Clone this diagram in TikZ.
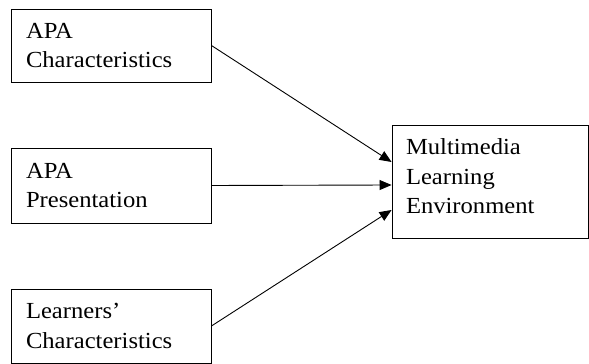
\documentclass[tikz,border=0pt]{standalone}
\usepackage{fontspec}
\setmainfont[FakeStretch=1.07]{Liberation Serif}
\usetikzlibrary{positioning}
\usetikzlibrary{arrows.meta}

\tikzset{
    factor/.style={draw, line width=0.9pt, minimum width=200pt, text width=170pt,
        align=left, inner xsep=15pt, font=\fontsize{23}{29.5}\selectfont},
    link/.style={-{Triangle[length=12pt,width=10pt]}, line width=0.9pt}
}

\begin{document}
\begin{tikzpicture}[x=1pt, y=1pt]
    \useasboundingbox (0, 0) rectangle (589, 364);

    % Input factors
    \node[factor, minimum height=73pt] (apachar) at (111, 318.5) {APA\\Characteristics};
    \node[factor, minimum height=75pt] (apapres) at (111, 178.5) {APA\\Presentation};
    \node[factor, minimum height=74pt] (learnchar) at (111, 38) {Learners'\\Characteristics};

    % Outcome
    \node[factor, minimum width=196pt, text width=168pt, inner xsep=14pt,
        minimum height=113pt, text depth=69pt] (mle) at (490, 182.5) {Multimedia\\Learning\\Environment};

    % Arrows
    \draw[link] (apachar.east) -- ([yshift=19.5pt]mle.west);
    \draw[link] (apapres.east) -- ([yshift=-3.5pt]mle.west);
    \draw[link] (learnchar.east) -- ([yshift=-28.5pt]mle.west);
\end{tikzpicture}
\end{document}
